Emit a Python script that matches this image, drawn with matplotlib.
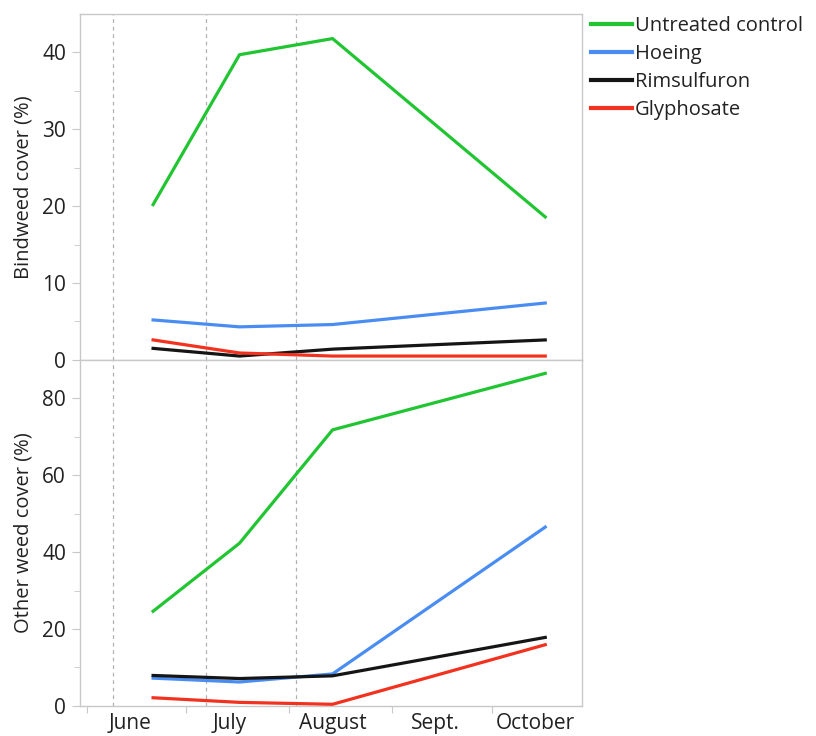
import datetime as dt
import matplotlib
matplotlib.use("Agg")
import matplotlib.pyplot as plt
import matplotlib.dates as mdates

plt.rcParams['font.family'] = ['Open Sans', 'DejaVu Sans']

dates = [dt.date(2015, 6, 21), dt.date(2015, 7, 17), dt.date(2015, 8, 14), dt.date(2015, 10, 17)]
treat_dates = [dt.date(2015, 6, 9), dt.date(2015, 7, 7), dt.date(2015, 8, 3)]

treatments = ["Untreated control", "Hoeing", "Rimsulfuron", "Glyphosate"]
colors = ["#21c532", "#4a8df2", "#151515", "#f2311f"]

bindweed = {
    "Untreated control": [20.2, 39.7, 41.8, 18.6],
    "Hoeing": [5.2, 4.3, 4.6, 7.4],
    "Rimsulfuron": [1.5, 0.5, 1.4, 2.6],
    "Glyphosate": [2.6, 0.9, 0.5, 0.5],
}
other = {
    "Untreated control": [24.6, 42.3, 71.8, 86.5],
    "Hoeing": [7.2, 6.2, 8.3, 46.5],
    "Rimsulfuron": [7.9, 7.1, 7.8, 17.8],
    "Glyphosate": [2.1, 0.9, 0.4, 15.9],
}

month_mids = [dt.date(2015, m, 14) for m in range(6, 11)]
month_labels = ["June", "July", "August", "Sept.", "October"]

fig = plt.figure(figsize=(8.16, 7.36), dpi=100)
ax1 = fig.add_axes([0.098, 0.511, 0.615, 0.470])
ax2 = fig.add_axes([0.098, 0.041, 0.615, 0.470], sharex=ax1)

spine_c = "#c8c8c8"
text_c = "#222222"

for ax, data, ylim, major, minor, lab in [
    (ax1, bindweed, 45, 10, 5, "Bindweed cover (%)"),
    (ax2, other, 90, 20, 10, "Other weed cover (%)"),
]:
    for td in treat_dates:
        ax.axvline(td, color="#b0b0b0", lw=0.9, ls=(0, (3, 3)), zorder=1)
    for name, c in zip(treatments, colors):
        ax.plot(dates, data[name], color=c, lw=2.3, label=name, zorder=3)
    ax.set_ylim(0, ylim)
    ax.set_yticks(range(0, ylim, major))
    ax.set_yticks(range(0, ylim, minor), minor=True)
    ax.set_ylabel(lab, fontsize=14.5, color=text_c, labelpad=6)
    for s in ax.spines.values():
        s.set_color(spine_c)
        s.set_linewidth(1.0)
    ax.tick_params(axis="y", which="major", length=6, color=spine_c, labelsize=15,
                   labelcolor=text_c, pad=4)
    ax.tick_params(axis="y", which="minor", length=4, color=spine_c)

ax1.set_xlim(dt.date(2015, 5, 30), dt.date(2015, 10, 28))
ax2.xaxis.set_major_locator(mdates.MonthLocator())
ax2.xaxis.set_major_formatter(plt.NullFormatter())
ax2.set_xticks([mdates.date2num(d) for d in month_mids], minor=True)
ax2.set_xticklabels(month_labels, minor=True)
ax2.tick_params(axis="x", which="major", length=5, color=spine_c)
ax2.tick_params(axis="x", which="minor", length=0, labelsize=15, labelcolor=text_c, pad=5)
ax1.tick_params(axis="x", which="both", bottom=False, labelbottom=False)

leg = ax1.legend(loc="upper left", bbox_to_anchor=(0.995, 1.03), frameon=False, fontsize=14.5,
                 handlelength=2.0, handletextpad=0.15, labelspacing=0.4, borderaxespad=0.2,
                 labelcolor=text_c)
for h in leg.get_lines():
    h.set_linewidth(3)

fig.savefig("out.png", dpi=100)
